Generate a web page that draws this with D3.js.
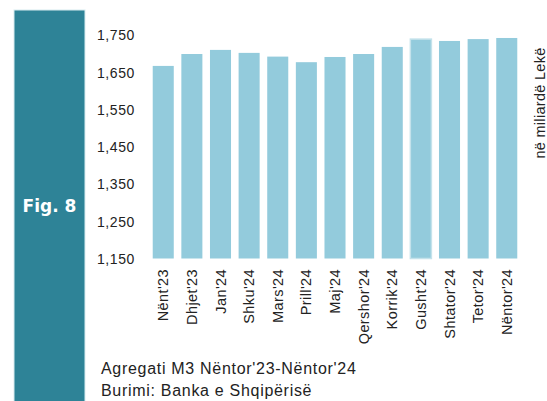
<!DOCTYPE html>
<html>

<head>
    <meta charset="utf-8">
    <style>
        body {
            margin: 0;
            background: #fff;
        }

        svg {
            display: block;
            font-family: 'Liberation Sans', Arial, sans-serif;
        }

        .y .tick text {
            font-size: 14px;
            letter-spacing: 0.6px;
            fill: #222;
        }

        .x .tick text {
            font-size: 14.5px;
            letter-spacing: 0.4px;
            fill: #222;
        }

        .domain,
        .tick line {
            display: none;
        }

        .unit {
            font-size: 14.5px;
            letter-spacing: 0.3px;
            fill: #222;
        }

        .note {
            font-size: 16px;
            letter-spacing: 0.7px;
            fill: #222;
        }
    </style>
    <title>Agregati M3</title>
</head>

<body>
    <svg width="547" height="401"></svg>

    <script src="https://d3js.org/d3.v7.min.js"></script>
    <script>
        let months = ["Nënt'23", "Dhjet'23", "Jan'24", "Shku'24", "Mars'24", "Prill'24", "Maj'24",
            "Qershor'24", "Korrik'24", "Gusht'24", "Shtator'24", "Tetor'24", "Nëntor'24"]

        let m3 = [1667, 1699, 1710, 1702, 1692, 1677, 1691, 1699, 1718, 1739, 1734, 1739, 1742]

        let yTicks = [1150, 1250, 1350, 1450, 1550, 1650, 1750]

        let svg = d3.select("svg")

        // teal side panel
        svg.append("rect")
            .attr("x", 14)
            .attr("y", 10)
            .attr("width", 71)
            .attr("height", 395)
            .attr("fill", "#2e8397")
            .attr("stroke", "#d8ecf0")
            .attr("stroke-width", 1)

        svg.append("text")
            .attr("x", 49.5)
            .attr("y", 211.5)
            .attr("text-anchor", "middle")
            .style("font-family", "'DejaVu Sans', sans-serif")
            .style("font-weight", "bold")
            .style("font-size", "17px")
            .style("fill", "#fff")
            .text("Fig. 8")

        let x = d3.scaleBand()
            .domain(months)
            .range([149, 521])
            .paddingInner(0.265)
            .paddingOuter(0.13)

        let y = d3.scaleLinear()
            .domain([1150, 1750])
            .range([258.5, 35])

        svg.append("g")
            .selectAll("rect")
            .data(months)
            .join("rect")
            .attr("x", d => x(d))
            .attr("y", (d, i) => y(m3[i]))
            .attr("width", x.bandwidth())
            .attr("height", (d, i) => y(1150) - y(m3[i]))
            .attr("fill", "#93cbdc")
            .attr("stroke", d => d == "Gusht'24" ? "#c4e2eb" : "none")
            .attr("stroke-width", 1.5)

        svg.append("g")
            .attr("class", "y axis")
            .attr("transform", "translate(135,0)")
            .call(d3.axisLeft(y)
                .tickValues(yTicks)
                .tickSize(0)
                .tickPadding(0)
                .tickFormat(d3.format(",")))
            .call(g => g.selectAll("text").attr("dy", "0.35em"))

        svg.append("g")
            .attr("class", "x axis")
            .attr("transform", "translate(0,266)")
            .call(d3.axisBottom(x).tickSize(0).tickPadding(0))
            .call(g => g.selectAll("text")
                .attr("transform", "rotate(-90)")
                .attr("text-anchor", "end")
                .attr("x", -3)
                .attr("y", 0)
                .attr("dy", "0.35em"))

        svg.append("text")
            .attr("class", "unit")
            .attr("transform", "translate(540,103) rotate(-90)")
            .attr("text-anchor", "middle")
            .attr("dy", "0.35em")
            .text("në miliardë Lekë")

        svg.append("text")
            .attr("class", "note")
            .attr("x", 101)
            .attr("y", 374)
            .text("Agregati M3 Nëntor'23-Nëntor'24")

        svg.append("text")
            .attr("class", "note")
            .attr("x", 101)
            .attr("y", 396)
            .text("Burimi: Banka e Shqipërisë")
    </script>
</body>

</html>
